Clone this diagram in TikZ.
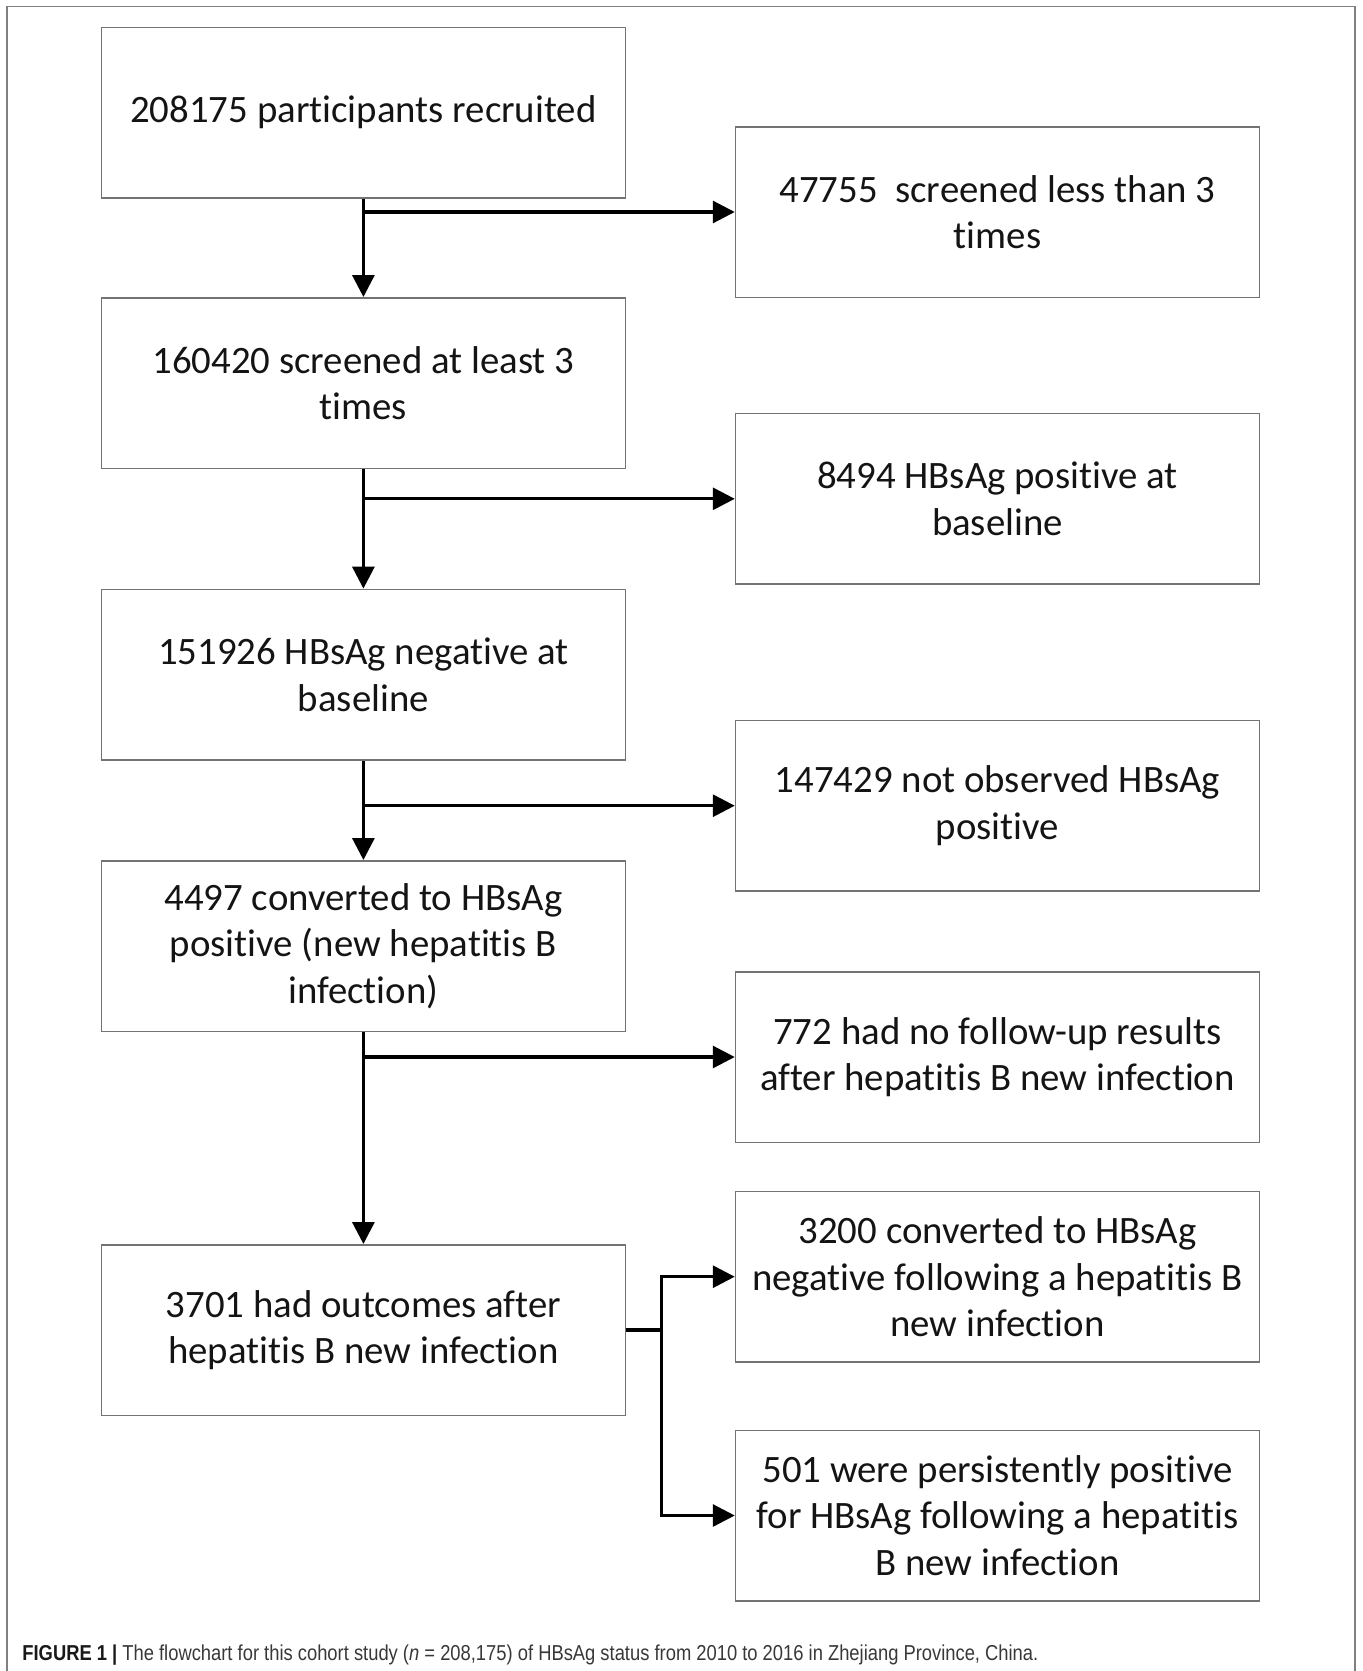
\documentclass[tikz,border=0pt]{standalone}
\usepackage{fontspec}
\setmainfont[Ligatures=NoCommon]{Carlito}
\newfontfamily\capfont[FakeStretch=0.85]{Liberation Sans}
\usetikzlibrary{positioning,arrows.meta}
\tikzset{
  stage/.style={draw=black!55, line width=0.75pt, minimum width=262pt, minimum height=85.25pt,
    inner sep=0pt, align=center, text=black!92, font=\fontsize{19.4}{23.2}\selectfont},
  flow/.style={line width=1.6pt, -{Triangle[length=11pt,width=11pt]}},
  link/.style={line width=1.6pt},
}
\begin{document}
\begin{tikzpicture}[x=0.5pt,y=-0.5pt]
\useasboundingbox (0,0) rectangle (1362,1671);
% outer frame, open at the bottom
\draw[black!50, line width=0.75pt] (7,1671) -- (7,6.5) -- (1355,6.5) -- (1355,1671);
% main column
\node[stage] (recruit) at (363.4,112.5) {208175 participants recruited};
\node[stage] (least) at (363.4,383) {160420 screened at least 3\\times};
\node[stage] (neg) at (363.4,674.6) {151926 HBsAg negative at\\baseline};
\node[stage] (conv) at (363.4,946) {4497 converted to HBsAg\\positive (new hepatitis B\\infection)};
\node[stage] (outc) at (363.4,1330) {3701 had outcomes after\\hepatitis B new infection};
% side boxes
\node[stage] (less) at (997.5,212) {47755\ \ screened less than 3\\times};
\node[stage] (pos) at (997.5,498.8) {8494 HBsAg positive at\\baseline};
\node[stage] (notobs) at (997.5,805.7) {147429 not observed HBsAg\\positive};
\node[stage] (nofu) at (997.5,1057) {772 had no follow-up results\\after hepatitis B new infection};
\node[stage] (clear) at (997.5,1276.7) {3200 converted to HBsAg\\negative following a hepatitis B\\new infection};
\node[stage] (persist) at (997.5,1515.5) {501 were persistently positive\\for HBsAg following a hepatitis\\B new infection};
% trunk
\draw[flow] (recruit) -- (least);
\draw[flow] (least) -- (neg);
\draw[flow] (neg) -- (conv);
\draw[flow] (conv) -- (outc);
% exclusions
\draw[flow] (recruit.south |- less) -- (less);
\draw[flow] (least.south |- pos) -- (pos);
\draw[flow] (neg.south |- notobs) -- (notobs);
\draw[flow] (conv.south |- nofu) -- (nofu);
% outcomes
\coordinate[right=17.5pt of outc.east] (fork);
\draw[link] (outc) -- (fork);
\draw[flow] (fork) |- (clear);
\draw[flow] (fork) |- (persist);
\node[anchor=base west, inner sep=0pt, text=black!78, font=\capfont\fontsize{10.8}{12}\selectfont] (caption) at (22,1660)
  {{\bfseries\color{black!90}FIGURE 1 |} The flowchart for this cohort study (\textit{n} = 208,175) of HBsAg status from 2010 to 2016 in Zhejiang Province, China.};
\end{tikzpicture}
\end{document}
